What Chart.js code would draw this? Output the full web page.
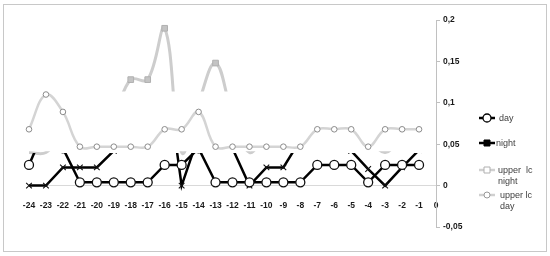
<!DOCTYPE html>
<html><head><meta charset="utf-8">
<script src="https://cdn.jsdelivr.net/npm/chart.js@4.4.1/dist/chart.umd.min.js"></script>
<style>html,body{margin:0;padding:0;background:#fff}#wrap{width:550px;height:256px;position:relative}</style>
</head><body><div id="wrap"><canvas id="c" width="550" height="256"></canvas></div>
<script>
// ---- data ----
const categories = ['-24','-23','-22','-21','-20','-19','-18','-17','-16','-15','-14','-13','-12','-11','-10','-9','-8','-7','-6','-5','-4','-3','-2','-1','0'];
const dayValues   = [0.025,0.072,0.045,0.004,0.004,0.004,0.004,0.004,0.025,0.025,0.045,0.004,0.004,0.004,0.004,0.004,0.004,0.025,0.025,0.025,0.004,0.025,0.025,0.025,null];
const nightValues = [0,0,0.022,0.022,0.022,0.042,0.088,0.088,0.15,0,0.06,0.108,0.045,0,0.022,0.022,0.055,0.045,0.045,0.042,0.02,0,0.022,0.043,null];
const upperLcNight = [0.04,0.04,0.062,0.062,0.062,0.085,0.128,0.128,0.19,0.04,0.1,0.148,0.085,0.04,0.062,0.062,0.095,0.085,0.085,0.085,0.06,0.04,0.062,0.085,null];
const upperLcDay   = [0.068,0.11,0.089,0.047,0.047,0.047,0.047,0.047,0.068,0.068,0.089,0.047,0.047,0.047,0.047,0.047,0.047,0.068,0.068,0.068,0.047,0.068,0.068,0.068,null];
const seriesNames = ['day','night','upper  lc night','upper lc day'];
const legendLines = [['day'],['night'],['upper  lc','night'],['upper lc','day']];
const yMin = -0.05, yMax = 0.2, yStep = 0.05;

// visible value bands per series (the rest of each line is hidden in the reference)
const blackBand = [[-Infinity, 0.0395]];
const grayNightBand = [[0.1135, Infinity], [-Infinity, 0.0415]];

const bandClip = {
  id: 'bandClip',
  beforeDatasetDraw(chart, args) {
    const ds = chart.data.datasets[args.index];
    if (!ds.bands) return;
    const y = chart.scales.y, ctx = chart.ctx;
    ctx.save();
    ctx.beginPath();
    ds.bands.forEach(([lo, hi]) => {
      const top = hi === Infinity ? 0 : y.getPixelForValue(hi);
      const bot = lo === -Infinity ? chart.height : y.getPixelForValue(lo);
      ctx.rect(0, top, chart.width, bot - top);
    });
    ctx.clip();
  },
  afterDatasetDraw(chart, args) {
    const ds = chart.data.datasets[args.index];
    if (!ds.bands) return;
    chart.ctx.restore();
  }
};

const frame = {
  id: 'frame',
  beforeDraw(chart) {
    const ctx = chart.ctx;
    ctx.save();
    ctx.fillStyle = '#fff';
    ctx.fillRect(0, 0, chart.width, chart.height);
    ctx.strokeStyle = '#c8c8c8';
    ctx.lineWidth = 1;
    ctx.strokeRect(3.5, 4.5, 543, 247);
    ctx.restore();
  }
};

const legendStyle = [
  {y: 118, tx: 499, line: '#000', lw: 2.5, marker: 'circle', r: 4, fill: '#fff', stroke: '#000', mw: 1.3},
  {y: 143, tx: 496, line: '#000', lw: 2.5, marker: 'square', r: 3, fill: '#000', stroke: '#000', mw: 1},
  {y: 170, tx: 498, line: '#d0d0d0', lw: 2.5, marker: 'square', r: 3, fill: '#fff', stroke: '#b0b0b0', mw: 1},
  {y: 195, tx: 500, line: '#d0d0d0', lw: 2.5, marker: 'circle', r: 3, fill: '#fff', stroke: '#999', mw: 1}
];
const customLegend = {
  id: 'customLegend',
  afterDraw(chart) {
    const ctx = chart.ctx;
    ctx.save();
    legendStyle.forEach((s, i) => {
      ctx.strokeStyle = s.line; ctx.lineWidth = s.lw;
      ctx.beginPath(); ctx.moveTo(479, s.y); ctx.lineTo(495, s.y); ctx.stroke();
      ctx.fillStyle = s.fill; ctx.strokeStyle = s.stroke; ctx.lineWidth = s.mw;
      ctx.beginPath();
      if (s.marker === 'circle') ctx.arc(487, s.y, s.r, 0, Math.PI * 2);
      else ctx.rect(487 - s.r, s.y - s.r, s.r * 2, s.r * 2);
      ctx.fill(); ctx.stroke();
      ctx.fillStyle = '#404040';
      ctx.font = '9px "Liberation Sans", Arial, sans-serif';
      ctx.textBaseline = 'middle';
      ctx.textAlign = 'left';
      legendLines[i].forEach((t, k) => ctx.fillText(t, s.tx, s.y + 1 + k * 11));
    });
    ctx.restore();
  }
};

const tickFont = {family: '"Liberation Sans", Arial, sans-serif', size: 8.5, weight: 'bold'};

new Chart(document.getElementById('c'), {
  type: 'line',
  data: {
    labels: categories,
    datasets: [
      {label: seriesNames[0], data: dayValues, borderColor: '#000', borderWidth: 2.5, tension: 0,
       pointStyle: 'circle', pointRadius: 4.5, pointBorderWidth: 1.3, pointBackgroundColor: '#fff', pointBorderColor: '#111',
       bands: blackBand, clip: 15},
      {label: seriesNames[1], data: nightValues, borderColor: '#000', borderWidth: 2.5, tension: 0,
       pointStyle: 'crossRot', pointRadius: 4, pointBorderWidth: 1.1, pointBorderColor: '#111', pointBackgroundColor: '#111',
       bands: blackBand, clip: 15},
      {label: seriesNames[2], data: upperLcNight, borderColor: '#cdcdcd', borderWidth: 3, tension: 0.4,
       pointStyle: 'rect', pointRadius: c => (c.raw != null && c.raw > 0.1135 ? 4 : 0), pointBorderWidth: 1,
       pointBackgroundColor: '#c4c4c4', pointBorderColor: '#b0b0b0',
       bands: grayNightBand, clip: 15},
      {label: seriesNames[3], data: upperLcDay, borderColor: '#d4d4d4', borderWidth: 2.5, tension: 0.4,
       pointStyle: 'circle', pointRadius: 2.8, pointBorderWidth: 1, pointBackgroundColor: '#fff', pointBorderColor: '#8c8c8c',
       clip: 15}
    ]
  },
  options: {
    responsive: false,
    animation: false,
    events: [],
    layout: {padding: {left: 29, right: 74, top: 20, bottom: 29}},
    plugins: {legend: {display: false}, tooltip: {enabled: false}},
    scales: {
      x: {
        type: 'category', offset: false, position: {y: 0},
        grid: {display: true, drawOnChartArea: false, drawTicks: false},
        border: {display: true, color: '#d9d9d9', width: 1},
        ticks: {font: tickFont, color: '#1a1a1a', padding: 15, autoSkip: false, maxRotation: 0}
      },
      y: {
        position: 'right', min: yMin, max: yMax,
        grid: {display: true, drawOnChartArea: false, drawTicks: true, tickLength: 4, color: '#c0c0c0'},
        border: {display: true, color: '#c0c0c0', width: 1},
        ticks: {stepSize: yStep, font: tickFont, color: '#1a1a1a', padding: 3,
          callback: v => String(Math.round(v * 100) / 100).replace('.', ',')},
        afterFit(s) { s.width = 40; }
      }
    }
  },
  plugins: [frame, bandClip, customLegend]
});
</script>
</body></html>
